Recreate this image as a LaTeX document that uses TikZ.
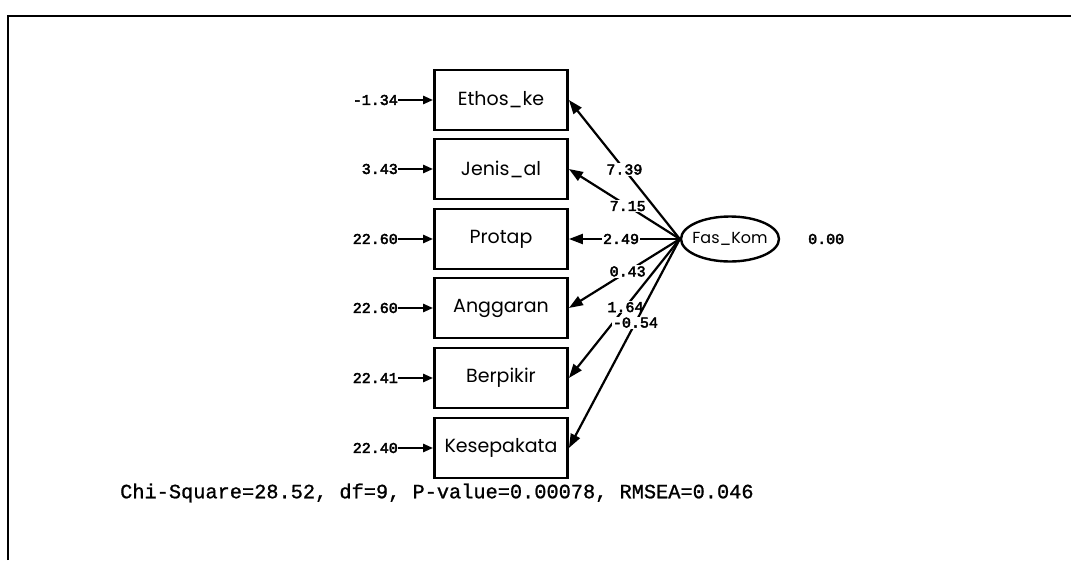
\documentclass[tikz,border=0pt]{standalone}
\usepackage{fontspec}
\setmainfont{Poppins}
\newfontfamily\numfont{Liberation Mono}[FakeBold=3]
\newfontfamily\statfont{Liberation Mono}[FakeBold=1]
\usetikzlibrary{shapes.geometric,arrows.meta}
\begin{document}
\begin{tikzpicture}[x=1pt,y=-1pt,
  obsbox/.style={draw,line width=2.8pt,minimum width=133pt,minimum height=60pt,inner sep=0pt,font=\fontsize{19}{19}\selectfont},
  latent/.style={draw,ellipse,line width=2.4pt,minimum width=93pt,minimum height=45pt,inner xsep=-3pt,inner ysep=0pt,font=\fontsize{16}{16}\selectfont},
  errlbl/.style={anchor=east,inner sep=0pt,font=\numfont\fontsize{15}{15}\selectfont},
  pathlbl/.style={fill=white,inner sep=1pt,font=\numfont\fontsize{15}{15}\selectfont},
  loading/.style={line width=2.2pt,-{Triangle[length=14pt,width=10pt]}},
  errarrow/.style={line width=2.4pt,-{Triangle[length=10pt,width=8pt]}}
]
\useasboundingbox (0,0) rectangle (1071,560);
% partial frame around the diagram
\draw[line width=1.8pt] (8,560) -- (8,16) -- (1071,16);

% observed indicators
\node[obsbox] (ethos) at (501,100) {Ethos\_ke};
\node[obsbox] (jenis) at (501,169) {Jenis\_al};
\node[obsbox] (protap) at (501,239) {Protap};
\node[obsbox] (angg) at (501,308) {Anggaran};
\node[obsbox] (berp) at (501,378) {Berpikir};
\node[obsbox] (kesep) at (501,448) {Kesepakata};

% latent factor and its variance
\node[latent] (fas) at (730,239) {Fas\_Kom};
\node[anchor=west,inner sep=0pt,font=\numfont\fontsize{15}{15}\selectfont] (fvar) at (808,239) {0.00};

% error variances
\node[errlbl] (e1) at (398,100) {-1.34};
\node[errlbl] (e2) at (398,169) {3.43};
\node[errlbl] (e3) at (398,239) {22.60};
\node[errlbl] (e4) at (398,308) {22.60};
\node[errlbl] (e5) at (398,378) {22.41};
\node[errlbl] (e6) at (398,448) {22.40};
\foreach \e/\b in {e1/ethos,e2/jenis,e3/protap,e4/angg,e5/berp,e6/kesep}
  \draw[errarrow] (\e.east) -- (\b.west);

% factor loadings
\draw[loading] (fas.west) -- node[pathlbl]{7.39} (ethos.east);
\draw[loading] (fas.west) -- node[pathlbl,pos=0.47]{7.15} (jenis.east);
\draw[loading] (fas.west) -- node[pathlbl,pos=0.53]{2.49} (protap.east);
\draw[loading] (fas.west) -- node[pathlbl,pos=0.47]{0.43} (angg.east);
\draw[loading] (fas.west) -- node[pathlbl,pos=0.49]{1.64} (berp.east);
\draw[loading] (fas.west) -- node[pathlbl,pos=0.4]{-0.54} (kesep.east);

% fit statistics
\node[anchor=west,inner sep=0pt,font=\statfont\fontsize{20.3}{20.3}\selectfont] (fit) at (120,493)
  {Chi-Square=28.52, df=9, P-value=0.00078, RMSEA=0.046};
\end{tikzpicture}
\end{document}
